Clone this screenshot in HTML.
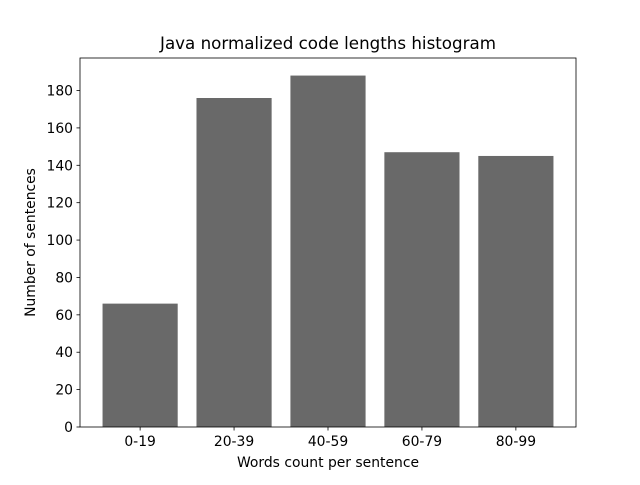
<!DOCTYPE html>
<html><head><meta charset="utf-8"><style>
body{margin:0;background:#fff;}
svg text{font-family:"DejaVu Sans","Liberation Sans",sans-serif;fill:#000;}
</style></head><body>
<svg id="chart" width="640" height="480" xmlns="http://www.w3.org/2000/svg">
<rect width="640" height="480" fill="#fff"/>
<text x="328" y="49" font-size="16.7" text-anchor="middle">Java normalized code lengths histogram</text>
<g id="bars"></g>
<g id="axes"></g>
<text x="328" y="467" font-size="13.9" text-anchor="middle">Words count per sentence</text>
<text transform="translate(35,242.5) rotate(-90)" font-size="13.9" text-anchor="middle">Number of sentences</text>
</svg>
<script>
const categories = ["0-19","20-39","40-59","60-79","80-99"];
const counts = [66,176,188,147,145];
const yTicks = [0,20,40,60,80,100,120,140,160,180];

const L=80,R=576,T=58,B=427;
const ns="http://www.w3.org/2000/svg";
const n=categories.length;
const xmin=-0.4-0.05*(n-1+0.8), xmax=n-1+0.4+0.05*(n-1+0.8);
const ymax=Math.max(...counts)*1.05;
const xs=v=>L+(v-xmin)/(xmax-xmin)*(R-L);
const ys=v=>B-v/ymax*(B-T);
const bars=document.getElementById('bars'), axes=document.getElementById('axes');
function mk(tag,attrs,parent){const e=document.createElementNS(ns,tag);for(const k in attrs)e.setAttribute(k,attrs[k]);parent.appendChild(e);return e;}
counts.forEach((c,i)=>{
  const r=mk('rect',{x:xs(i-0.4),y:ys(c),width:xs(i+0.4)-xs(i-0.4),height:ys(0)-ys(c),fill:'#696969'},bars);
  
  
  mk('line',{x1:xs(i),x2:xs(i),y1:B,y2:B+3.5,stroke:'#000','stroke-width':0.8},axes);
  const lb=mk('text',{x:xs(i),y:B+19,'font-size':13.9,'text-anchor':'middle'},axes);
  lb.textContent=categories[i];
  
  
});
yTicks.forEach(v=>{
  mk('line',{x1:L-3.5,x2:L,y1:ys(v),y2:ys(v),stroke:'#000','stroke-width':0.8},axes);
  const lb=mk('text',{x:L-7,y:ys(v)+5,'font-size':13.9,'text-anchor':'end'},axes);
  lb.textContent=v;
  
  
});
const fr=mk('rect',{x:L,y:T,width:R-L,height:B-T,fill:'none',stroke:'#000','stroke-width':0.8},axes);


</script>
</body></html>
